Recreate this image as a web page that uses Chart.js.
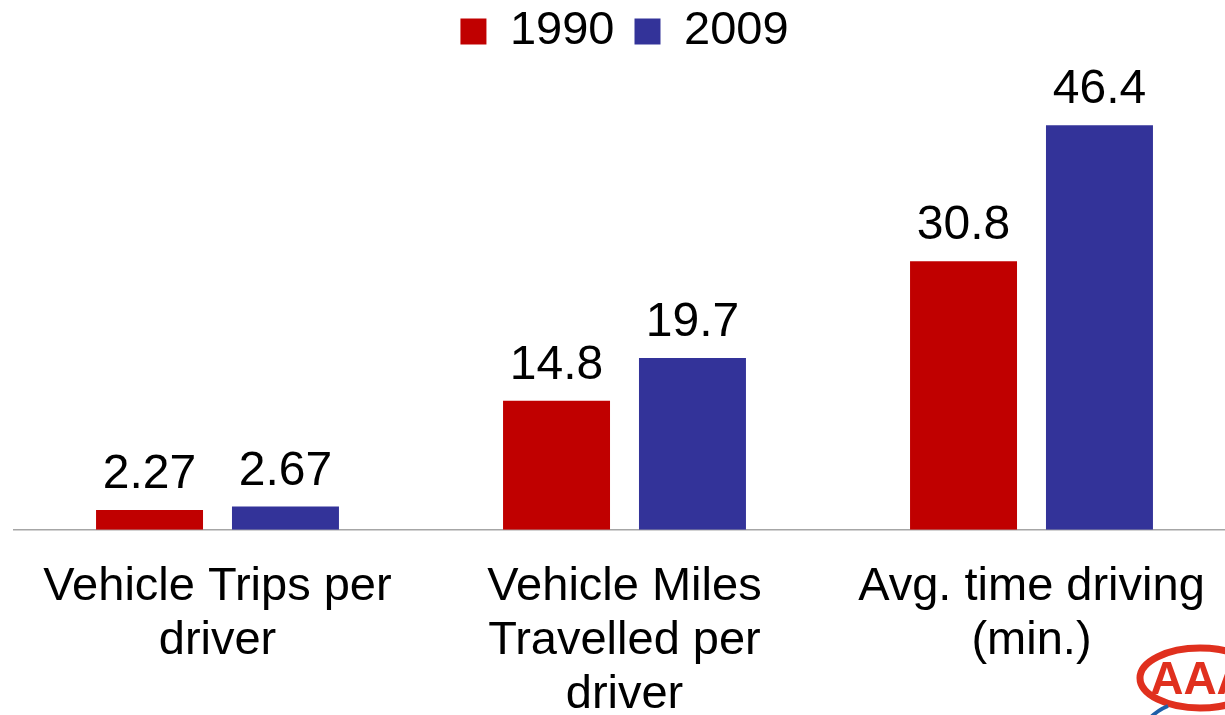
<!DOCTYPE html>
<html>
<head>
<meta charset="utf-8">
<script src="https://cdn.jsdelivr.net/npm/chart.js"></script>
<style>
  html, body { margin: 0; padding: 0; background: #fff; overflow: hidden; }
  #wrap { position: relative; width: 1235px; height: 752px; }
</style>
</head>
<body>
<div id="wrap"><canvas id="chart"></canvas></div>
<script>
// Chart data
const categories = [
  ['Vehicle Trips per', 'driver'],
  ['Vehicle Miles', 'Travelled per', 'driver'],
  ['Avg. time driving', '(min.)']
];
const seriesNames = ['1990', '2009'];
const values1990 = [2.27, 14.8, 30.8];
const values2009 = [2.67, 19.7, 46.4];

const FONT = '"Liberation Sans", Arial, sans-serif';

// Value labels above each bar
const barValueLabels = {
  id: 'barValueLabels',
  afterDatasetsDraw(chart) {
    const ctx = chart.ctx;
    ctx.save();
    ctx.font = '48px ' + FONT;
    ctx.fillStyle = '#000';
    ctx.textAlign = 'center';
    ctx.textBaseline = 'alphabetic';
    chart.data.datasets.forEach((ds, i) => {
      chart.getDatasetMeta(i).data.forEach((bar, j) => {
        ctx.fillText(String(ds.data[j]), bar.x, bar.y - 22);
      });
    });
    ctx.restore();
  }
};

// Rough AAA logo in the bottom right corner
const cornerLogo = {
  id: 'cornerLogo',
  afterDraw(chart) {
    const ctx = chart.ctx;
    ctx.save();
    ctx.strokeStyle = '#e0301e';
    ctx.lineWidth = 7;
    ctx.beginPath();
    ctx.ellipse(1200, 678, 60, 30, 0, 0, Math.PI * 2);
    ctx.stroke();
    ctx.fillStyle = '#e0301e';
    ctx.font = 'bold 46px ' + FONT;
    ctx.textAlign = 'center';
    ctx.textBaseline = 'middle';
    ctx.fillText('AAA', 1200, 681);
    ctx.strokeStyle = '#1f5fa8';
    ctx.lineWidth = 4;
    ctx.beginPath();
    ctx.moveTo(1150, 718);
    ctx.quadraticCurveTo(1158, 710, 1168, 706);
    ctx.stroke();
    ctx.restore();
  }
};

const ctx = document.getElementById('chart').getContext('2d');
new Chart(ctx, {
  type: 'bar',
  data: {
    labels: categories,
    datasets: [
      {
        label: seriesNames[0],
        data: values1990,
        backgroundColor: '#C00000',
        borderWidth: 0,
        barPercentage: 0.787,
        categoryPercentage: 0.668
      },
      {
        label: seriesNames[1],
        data: values2009,
        backgroundColor: '#333399',
        borderWidth: 0,
        barPercentage: 0.787,
        categoryPercentage: 0.668
      }
    ]
  },
  options: {
    responsive: true,
    maintainAspectRatio: false,
    animation: false,
    layout: {
      padding: { left: 14, right: 0, top: -12, bottom: 0 }
    },
    scales: {
      x: {
        grid: { display: false, drawTicks: false },
        border: { display: true, color: '#a6a6a6', width: 1.5 },
        ticks: {
          color: '#000',
          padding: 30,
          maxRotation: 0,
          autoSkip: false,
          font: { family: FONT, size: 47, lineHeight: 1.15 }
        }
      },
      y: {
        display: false,
        min: 0,
        max: 53.3
      }
    },
    plugins: {
      legend: {
        position: 'top',
        labels: {
          color: '#000',
          boxWidth: 26,
          boxHeight: 26,
          padding: 20,
          font: { family: FONT, size: 47 }
        }
      },
      tooltip: { enabled: false }
    }
  },
  plugins: [barValueLabels, cornerLogo]
});
</script>
</body>
</html>
